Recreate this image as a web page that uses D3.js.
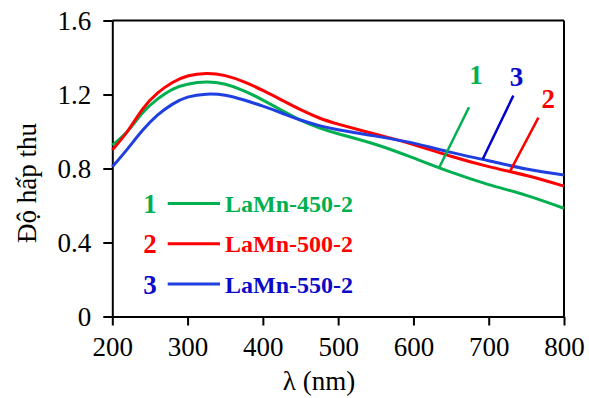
<!DOCTYPE html>
<html>
<head>
<meta charset="utf-8">
<script src="https://cdn.jsdelivr.net/npm/d3@7"></script>
<style>
  body { margin: 0; background: #fff; }
  svg { display: block; }
</style>
</head>
<body>
<svg id="svg1" width="589" height="398"></svg>
<script>
// wavelengths (nm) and absorbance
var wavelength = [200, 220, 240, 260, 280, 300, 325, 350, 375, 400, 425, 450, 475, 500, 550, 600, 650, 700, 750, 800];
var abs450 = [0.926, 1.0, 1.10, 1.175, 1.228, 1.255, 1.267, 1.255, 1.22, 1.17, 1.115, 1.062, 1.02, 0.988, 0.93, 0.857, 0.78, 0.713, 0.655, 0.585];
var abs500 = [0.90, 1.0, 1.12, 1.208, 1.265, 1.300, 1.314, 1.302, 1.268, 1.222, 1.170, 1.118, 1.073, 1.040, 0.985, 0.930, 0.866, 0.81, 0.762, 0.705];
var abs550 = [0.809, 0.905, 1.005, 1.088, 1.148, 1.186, 1.202, 1.196, 1.170, 1.137, 1.10, 1.062, 1.032, 1.010, 0.975, 0.937, 0.887, 0.842, 0.797, 0.765];

var seriesNames = ['LaMn-450-2', 'LaMn-500-2', 'LaMn-550-2'];
var seriesNums = ['1', '2', '3'];
var lineColors = ['#00b050', '#ff0000', '#1f3fe0'];
var textColors = ['#00b050', '#ff0000', '#0a0ac8'];

var xTicks = [200, 300, 400, 500, 600, 700, 800];
var yTicks = [0, 0.4, 0.8, 1.2, 1.6];

// callout leaders: [x1, y1, x2, y2] in data units, number label position
var leaders = [[634.4, 0.807, 673.8, 1.131], [727.4, 0.778, 766, 1.075], [692, 0.850, 732.7, 1.194]];
var leaderLabels = [[683, 1.257], [779, 1.129], [737, 1.247]];

var width = 589, height = 398;
var margin = {top: 20.5, right: 25, bottom: 81.5, left: 112.3};
var w = width - margin.left - margin.right;
var h = height - margin.top - margin.bottom;
var serif = '"Liberation Serif", "Times New Roman", serif';

var svg = d3.select('#svg1');
var g = svg.append('g')
    .attr('transform', 'translate(' + margin.left + ',' + margin.top + ')');

var x = d3.scaleLinear().domain([200, 800]).range([0, w]);
var y = d3.scaleLinear().domain([0, 1.6]).range([h, 0]);

// frame (top + right)
g.append('line').attr('x1', 0).attr('x2', w).attr('y1', 0).attr('y2', 0)
    .attr('stroke', '#000').attr('stroke-width', 2);
g.append('line').attr('x1', w).attr('x2', w).attr('y1', 0).attr('y2', h)
    .attr('stroke', '#000').attr('stroke-width', 2);

var xAxis = g.append('g')
    .attr('transform', 'translate(0,' + h + ')')
    .call(d3.axisBottom(x).tickValues(xTicks).tickSize(9).tickSizeOuter(0).tickPadding(11));
var yAxis = g.append('g')
    .call(d3.axisLeft(y).tickValues(yTicks).tickSize(9).tickSizeOuter(0).tickPadding(12)
        .tickFormat(function(d) { return d === 0 ? '0' : d3.format('.1f')(d); }));

[xAxis, yAxis].forEach(function(a) {
    a.attr('font-family', serif).attr('font-size', 27);
    a.selectAll('path').attr('stroke', '#000').attr('stroke-width', 2);
    a.selectAll('line').attr('stroke', '#000').attr('stroke-width', 2);
    a.selectAll('text').attr('fill', '#000');
});
yAxis.selectAll('text').attr('dy', '0.34em');

// curves
var allSeries = [abs450, abs500, abs550];
var line = d3.line()
    .x(function(d, i) { return x(wavelength[i]); })
    .y(function(d) { return y(d); })
    .curve(d3.curveNatural);

g.append('g').selectAll('path')
    .data(allSeries)
    .enter().append('path')
    .attr('d', line)
    .attr('fill', 'none')
    .attr('stroke', function(d, i) { return lineColors[i]; })
    .attr('stroke-width', 3);

// callouts
g.append('g').selectAll('line')
    .data(leaders)
    .enter().append('line')
    .attr('x1', function(d) { return x(d[0]); })
    .attr('y1', function(d) { return y(d[1]); })
    .attr('x2', function(d) { return x(d[2]); })
    .attr('y2', function(d) { return y(d[3]); })
    .attr('stroke', function(d, i) { return i == 2 ? '#0000cc' : lineColors[i]; })
    .attr('stroke-width', 2.5);

g.append('g').selectAll('text')
    .data(leaderLabels)
    .enter().append('text')
    .attr('x', function(d) { return x(d[0]); })
    .attr('y', function(d) { return y(d[1]); })
    .attr('text-anchor', 'middle')
    .attr('font-family', serif)
    .attr('font-weight', 'bold')
    .attr('font-size', 27)
    .attr('fill', function(d, i) { return textColors[i]; })
    .text(function(d, i) { return seriesNums[i]; });

// legend
var legend = svg.append('g').selectAll('g')
    .data(seriesNames)
    .enter().append('g')
    .attr('transform', function(d, i) { return 'translate(0,' + (203.5 + i * 40.3) + ')'; });

legend.append('text')
    .attr('x', 150).attr('y', 9.5)
    .attr('text-anchor', 'middle')
    .attr('font-family', serif).attr('font-weight', 'bold').attr('font-size', 27)
    .attr('fill', function(d, i) { return textColors[i]; })
    .text(function(d, i) { return seriesNums[i]; });

legend.append('line')
    .attr('x1', 167.7).attr('x2', 220)
    .attr('stroke', function(d, i) { return lineColors[i]; })
    .attr('stroke-width', 3);

legend.append('text')
    .attr('x', 225).attr('y', 8.5)
    .attr('font-family', serif).attr('font-weight', 'bold').attr('font-size', 24)
    .attr('fill', function(d, i) { return textColors[i]; })
    .text(function(d) { return d; });

// axis titles
svg.append('text')
    .attr('x', 319).attr('y', 390)
    .attr('text-anchor', 'middle')
    .attr('font-family', serif).attr('font-size', 27)
    .text('λ (nm)');

svg.append('text')
    .attr('transform', 'translate(36,183) rotate(-90)')
    .attr('text-anchor', 'middle')
    .attr('font-family', serif).attr('font-size', 27)
    .text('Độ hấp thu');
</script>
</body>
</html>
